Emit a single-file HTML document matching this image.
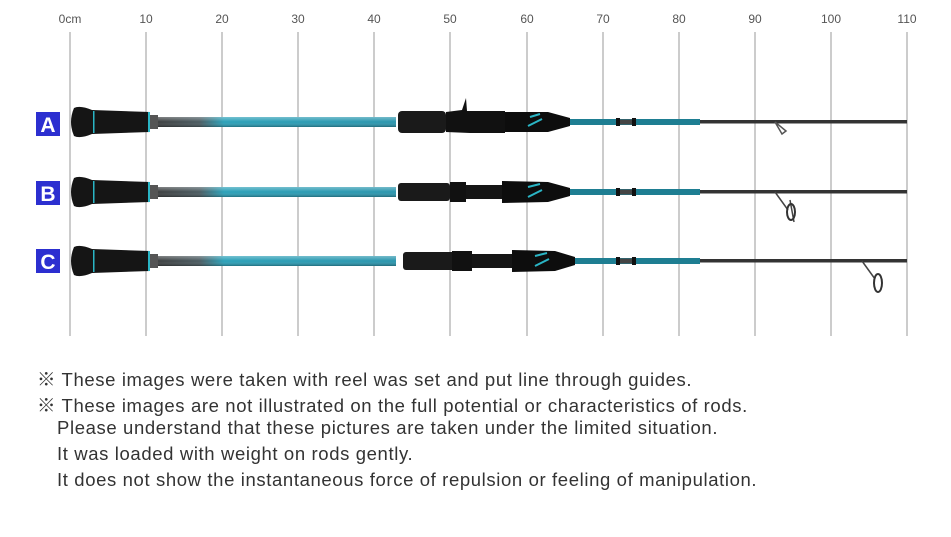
<!DOCTYPE html>
<html><head><meta charset="utf-8"><style>
body{margin:0;background:#fff;width:951px;height:537px;overflow:hidden;font-family:"Liberation Sans","Noto Sans CJK JP",sans-serif}
.t{position:absolute;left:37px;font-size:18.5px;letter-spacing:0.62px;color:#333;white-space:nowrap}
</style></head><body>
<svg width="951" height="537" style="position:absolute;left:0;top:0" font-family="Liberation Sans, sans-serif">
<defs>
<linearGradient id="bl" x1="0" x2="1"><stop offset="0" stop-color="#3a3a3a"/><stop offset="0.2" stop-color="#4a5a60"/><stop offset="0.3" stop-color="#2aa0b8"/><stop offset="1" stop-color="#2a95ad"/></linearGradient>
<linearGradient id="sh" x1="0" y1="0" x2="0" y2="1"><stop offset="0" stop-color="#fff" stop-opacity=".35"/><stop offset=".5" stop-color="#fff" stop-opacity="0"/><stop offset="1" stop-color="#000" stop-opacity=".3"/></linearGradient>
<g id="rod">
<path d="M150,-5 L396,-5 L396,5 L150,5Z" fill="url(#bl)"/>
<path d="M150,-5 L396,-5 L396,5 L150,5Z" fill="url(#sh)"/>
<rect x="150" y="-7" width="8" height="14" fill="#555"/>
<path d="M74,-14 Q80,-17 92,-12 L150,-10 L150,10 L92,12 Q80,17 74,14 Q68,0 74,-14Z" fill="#151515"/>
<rect x="93" y="-11" width="1.5" height="22" fill="#2ab5c5"/>
<rect x="148" y="-10" width="2" height="20" fill="#2ab5c5"/>
<rect x="570" y="-3" width="130" height="6" fill="#1e7e92"/>
<rect x="700" y="-2" width="207" height="3.5" fill="#333"/>
<rect x="616" y="-4" width="4" height="8" fill="#111"/>
<rect x="632" y="-4" width="4" height="8" fill="#111"/>
<rect x="620" y="-2.5" width="12" height="5" fill="#444"/>
</g>
</defs>
<g stroke="#ccc" stroke-width="2">
<line x1="70" y1="32" x2="70" y2="336"/><line x1="146" y1="32" x2="146" y2="336"/><line x1="222" y1="32" x2="222" y2="336"/><line x1="298" y1="32" x2="298" y2="336"/><line x1="374" y1="32" x2="374" y2="336"/><line x1="450" y1="32" x2="450" y2="336"/><line x1="527" y1="32" x2="527" y2="336"/><line x1="603" y1="32" x2="603" y2="336"/><line x1="679" y1="32" x2="679" y2="336"/><line x1="755" y1="32" x2="755" y2="336"/><line x1="831" y1="32" x2="831" y2="336"/><line x1="907" y1="32" x2="907" y2="336"/>
</g>
<g font-size="12" fill="#555" text-anchor="middle">
<text x="70" y="23">0cm</text><text x="146" y="23">10</text><text x="222" y="23">20</text><text x="298" y="23">30</text><text x="374" y="23">40</text><text x="450" y="23">50</text><text x="527" y="23">60</text><text x="603" y="23">70</text><text x="679" y="23">80</text><text x="755" y="23">90</text><text x="831" y="23">100</text><text x="907" y="23">110</text>
</g>
<g font-size="21" font-weight="bold" fill="#fff" text-anchor="middle">
<rect x="36" y="112" width="24" height="24" fill="#2c2fd0"/><text x="48" y="132">A</text>
<rect x="36" y="181" width="24" height="24" fill="#2c2fd0"/><text x="48" y="201">B</text>
<rect x="36" y="249" width="24" height="24" fill="#2c2fd0"/><text x="48" y="269">C</text>
</g>
<g transform="translate(0,122)">
<use href="#rod"/>
<rect x="398" y="-11" width="48" height="22" rx="4" fill="#1a1a1a"/>
<path d="M446,-10 L462,-12 L466,-24 L467,-11 L505,-11 L505,11 L470,11 L446,10Z" fill="#111"/>
<path d="M505,-10 L548,-10 L570,-4 L570,4 L548,10 L505,10Z" fill="#0d0d0d"/>
<path d="M530,-5 L540,-8 M528,4 L542,-3" stroke="#2ab5c5" stroke-width="2"/>
<path d="M775,0 L782,12 L786,9 Z" fill="none" stroke="#555" stroke-width="1.5"/>
</g>
<g transform="translate(0,192)">
<use href="#rod"/>
<rect x="398" y="-9" width="52" height="18" rx="3" fill="#1a1a1a"/>
<rect x="450" y="-10" width="16" height="20" fill="#111"/>
<rect x="466" y="-7" width="36" height="14" fill="#151515"/>
<path d="M502,-11 L548,-10 L570,-4 L570,4 L548,10 L502,11Z" fill="#0d0d0d"/>
<path d="M528,-5 L540,-8 M528,5 L542,-2" stroke="#2ab5c5" stroke-width="2"/>
<path d="M775,0 L788,18 M790,8 L794,30" stroke="#444" stroke-width="1.5"/>
<ellipse cx="791" cy="20" rx="4" ry="8" fill="none" stroke="#333" stroke-width="2"/>
</g>
<g transform="translate(0,261)">
<use href="#rod"/>
<rect x="403" y="-9" width="52" height="18" rx="3" fill="#1a1a1a"/>
<rect x="452" y="-10" width="20" height="20" fill="#111"/>
<rect x="472" y="-7" width="40" height="14" fill="#151515"/>
<path d="M512,-11 L555,-10 L575,-4 L575,4 L555,10 L512,11Z" fill="#0d0d0d"/>
<path d="M535,-5 L547,-8 M535,5 L549,-2" stroke="#2ab5c5" stroke-width="2"/>
<path d="M862,0 L875,18" stroke="#444" stroke-width="1.5"/>
<ellipse cx="878" cy="22" rx="4" ry="9" fill="none" stroke="#333" stroke-width="2"/>
</g>
</svg>
<div class="t" style="top:366px">※ These images were taken with reel was set and put line through guides.</div>
<div class="t" style="top:392px">※ These images are not illustrated on the full potential or characteristics of rods.</div>
<div class="t" style="top:417px;left:57px">Please understand that these pictures are taken under the limited situation.</div>
<div class="t" style="top:443px;left:57px">It was loaded with weight on rods gently.</div>
<div class="t" style="top:469px;left:57px">It does not show the instantaneous force of repulsion or feeling of manipulation.</div>
</body></html>
